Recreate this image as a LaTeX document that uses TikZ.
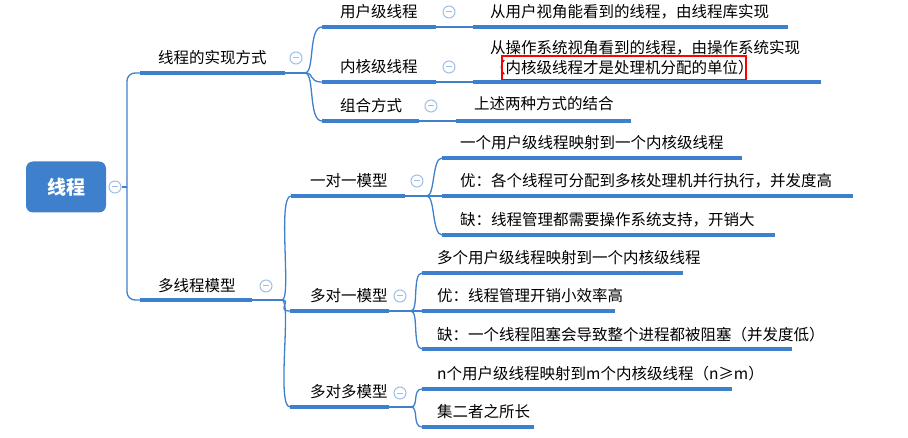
\documentclass[tikz,border=0pt]{standalone}
\usepackage{fontspec}
\setmainfont{Noto Sans CJK SC}
\definecolor{mapblue}{HTML}{3F80CC}
\definecolor{foldblue}{HTML}{9DBFE6}
\tikzset{
  uline/.style={mapblue, line width=3.5pt},
  conn/.style={mapblue, line width=1.3pt},
  txt/.style={anchor=west, inner sep=0pt, font=\fontsize{15.5}{18}\selectfont},
  fold/.style={circle, draw=foldblue, line width=1pt, minimum size=12pt, inner sep=0pt},
}
\newcommand\foldat[2]{\node[fold] (#2) at (#1) {}; \draw[foldblue, line width=1pt] ([xshift=-3pt]#2.center) -- ([xshift=3pt]#2.center);}
\begin{document}
\begin{tikzpicture}[x=1pt,y=-1pt]
\useasboundingbox (0,0) rectangle (908,438);
% root
\node[fill=mapblue, rounded corners=7pt, minimum width=80pt, minimum height=51pt, text=white,
      font=\fontsize{19}{22}\selectfont\bfseries] (root) at (66,187) {线程};
\foldat{115,187}{rootf}
% level 1
\coordinate (impl-l) at (140,73); \coordinate (impl-r) at (285,73);
\coordinate (mt-l) at (140,300);  \coordinate (mt-r) at (252,300);
\node[txt] (impl) at (158,58) {线程的实现方式};
\node[txt] (mt) at (158,286) {多线程模型};
\foldat{296,58}{implf}
\foldat{266,286}{mtf}
% level 2
\coordinate (user-l) at (322,27); \coordinate (user-r) at (436,27);
\coordinate (kern-l) at (322,82); \coordinate (kern-r) at (436,82);
\coordinate (comb-l) at (322,121); \coordinate (comb-r) at (419,121);
\coordinate (oo-l) at (291,196); \coordinate (oo-r) at (405,196);
\coordinate (mo-l) at (290,311); \coordinate (mo-r) at (389,311);
\coordinate (mm-l) at (290,407); \coordinate (mm-r) at (389,407);
\node[txt] (user) at (340,12) {用户级线程};
\node[txt] (kern) at (340,67) {内核级线程};
\node[txt] (comb) at (340,106) {组合方式};
\node[txt] (oo) at (310,181) {一对一模型};
\node[txt] (mo) at (310,296) {多对一模型};
\node[txt] (mm) at (310,392) {多对多模型};
\foldat{449,12}{userf}
\foldat{449,67}{kernf}
\foldat{431,106}{combf}
\foldat{417,181}{oof}
\foldat{400,296}{mof}
\foldat{400,393}{mmf}
% leaves
\coordinate (a1-l) at (473,27); \coordinate (a1-r) at (788,27);
\coordinate (a2-l) at (473,82); \coordinate (a2-r) at (821,82);
\coordinate (a3-l) at (456,121); \coordinate (a3-r) at (631,121);
\coordinate (b1-l) at (442,158); \coordinate (b1-r) at (742,158);
\coordinate (b2-l) at (442,196); \coordinate (b2-r) at (853,196);
\coordinate (b3-l) at (442,235); \coordinate (b3-r) at (775,235);
\coordinate (c1-l) at (422,273); \coordinate (c1-r) at (683,273);
\coordinate (c2-l) at (422,311); \coordinate (c2-r) at (615,311);
\coordinate (c3-l) at (422,349); \coordinate (c3-r) at (792,349);
\coordinate (d1-l) at (422,389); \coordinate (d1-r) at (732,389);
\coordinate (d2-l) at (422,427); \coordinate (d2-r) at (534,427);
\node[txt] (a1) at (490,12) {从用户视角能看到的线程，由线程库实现};
\node[txt] (a2) at (490,48) {从操作系统视角看到的线程，由操作系统实现};
\node[txt] (a2b) at (490,68) {（内核级线程才是处理机分配的单位）};
\node[txt] (a3) at (474,104) {上述两种方式的结合};
\node[txt] (b1) at (460,143) {一个用户级线程映射到一个内核级线程};
\node[txt] (b2) at (460,181) {优：各个线程可分配到多核处理机并行执行，并发度高};
\node[txt] (b3) at (460,220) {缺：线程管理都需要操作系统支持，开销大};
\node[txt] (c1) at (437,258) {多个用户级线程映射到一个内核级线程};
\node[txt] (c2) at (437,296) {优：线程管理开销小效率高};
\node[txt] (c3) at (437,335) {缺：一个线程阻塞会导致整个进程都被阻塞（并发度低）};
\node[txt] (d1) at (437,374) {n个用户级线程映射到m个内核级线程（n≥m）};
\node[txt] (d2) at (437,412) {集二者之所长};
\draw[red, line width=1.5pt] (502,56) rectangle (746,80);
% underlines
\foreach \u in {impl,mt,user,kern,comb,oo,mo,mm,a1,a2,a3,b1,b2,b3,c1,c2,c3,d1,d2}
  \draw[uline] (\u-l) -- (\u-r);
% connectors
\draw[conn] (rootf.east) -- (127,187);
\draw[conn, rounded corners=8pt] (impl-l) -- (127,73) -- (127,300) -- (mt-l);
\draw[conn] (impl-r) -- ++(20,0) coordinate (j1);
\foreach \c in {user,kern,comb} \draw[conn] (j1) .. controls +(10,0) and +(-14,0) .. (\c-l);
\draw[conn] (mt-r) -- ++(30,0) coordinate (j2);
\foreach \c in {oo,mo,mm} \draw[conn] (j2) .. controls +(10,0) and +(-14,0) .. (\c-l);
\draw[conn] (user-r) -- (a1-l);
\draw[conn] (kern-r) -- (a2-l);
\draw[conn] (comb-r) -- (a3-l);
\draw[conn] (oo-r) -- ++(22,0) coordinate (j3);
\foreach \c in {b1,b2,b3} \draw[conn] (j3) .. controls +(8,0) and +(-10,0) .. (\c-l);
\draw[conn] (mo-r) -- ++(22,0) coordinate (j4);
\foreach \c in {c1,c2,c3} \draw[conn] (j4) .. controls +(8,0) and +(-10,0) .. (\c-l);
\draw[conn] (mm-r) -- ++(22,0) coordinate (j5);
\foreach \c in {d1,d2} \draw[conn] (j5) .. controls +(8,0) and +(-10,0) .. (\c-l);
\end{tikzpicture}
\end{document}
